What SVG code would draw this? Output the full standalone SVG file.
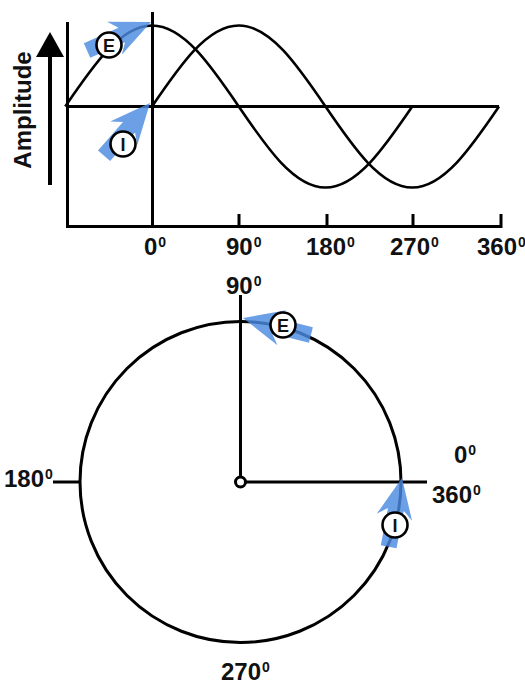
<svg xmlns="http://www.w3.org/2000/svg" xmlns:xlink="http://www.w3.org/1999/xlink" width="525" height="685" viewBox="0 0 525 685">
  <style>
    .ln { fill: none; stroke: #000; stroke-width: 3; stroke-linecap: butt; stroke-linejoin: miter; }
    .wave { fill: none; stroke: #000; stroke-width: 2.6; }
    .lbl { font-family: "Liberation Sans", Arial, sans-serif; font-weight: bold; font-size: 24px; fill: #111; }
    .sup { font-size: 14px; }
    .mk circle { fill: #fff; stroke: #000; stroke-width: 2.6; }
    .mk text { font-family: "Liberation Sans", Arial, sans-serif; font-weight: bold; font-size: 18px; fill: #111; text-anchor: middle; }
    .blue { fill: #4a8ae0; fill-opacity: 0.82; }
  </style>
  <defs>
    <path id="blueArrow" d="M0,0 L-40,-18 L-32,-8 L-70,-8 L-70,8 L-32,8 L-40,18 Z"/>
  </defs>
  <rect width="525" height="685" fill="#fff"/>

  <!-- Wave plot -->
  <g id="wave-plot">
    <g id="axes">
      <polyline class="ln" points="67.5,22 67.5,226.5 501,226.5 501,214"/>
      <line class="ln" x1="67" y1="106.5" x2="499" y2="106.5"/>
      <line class="ln" x1="152.5" y1="12" x2="152.5" y2="226.5"/>
      <line class="ln" x1="239" y1="214" x2="239" y2="226.5"/>
      <line class="ln" x1="327" y1="214" x2="327" y2="226.5"/>
      <line class="ln" x1="413" y1="214" x2="413" y2="226.5"/>
    </g>
    <g id="amplitude-arrow">
      <line x1="50" y1="185" x2="50" y2="52" stroke="#000" stroke-width="4"/>
      <polygon points="50,32 36,57 64,57" fill="#000"/>
      <text class="lbl" transform="translate(31,110) rotate(-90)" text-anchor="middle">Amplitude</text>
    </g>
    <g id="wave-E">
      <path class="wave" d="M65.25,106.5 C93.54,65 120.61,25.5 152,25.5 C183.39,25.5 210.46,65 238.75,106.5 C267.04,148 294.11,187.5 325.5,187.5 C356.89,187.5 383.96,148 412.25,106.5"/>
    </g>
    <g id="wave-I">
      <path class="wave" d="M152,106.5 C180.29,65 207.36,25.5 238.75,25.5 C270.14,25.5 297.21,65 325.5,106.5 C353.79,148 380.86,187.5 412.25,187.5 C443.64,187.5 470.71,148 499,106.5"/>
    </g>
    <g id="x-labels">
      <text class="lbl" x="144" y="255">0<tspan class="sup" dx="1" dy="-8">0</tspan></text>
      <text class="lbl" x="226" y="255">90<tspan class="sup" dx="1" dy="-8">0</tspan></text>
      <text class="lbl" x="306" y="255">180<tspan class="sup" dx="1" dy="-8">0</tspan></text>
      <text class="lbl" x="390" y="255">270<tspan class="sup" dx="1" dy="-8">0</tspan></text>
      <text class="lbl" x="477" y="255">360<tspan class="sup" dx="1" dy="-8">0</tspan></text>
    </g>
    <g id="marker-E-wave" class="mk">
      <use href="#blueArrow" xlink:href="#blueArrow" class="blue" transform="translate(151,22) rotate(-24)"/>
      <circle cx="109" cy="45" r="12.5"/>
      <text x="109" y="51.5">E</text>
    </g>
    <g id="marker-I-wave" class="mk">
      <use href="#blueArrow" xlink:href="#blueArrow" class="blue" transform="translate(150,103) rotate(-49)"/>
      <circle cx="123" cy="144" r="12.5"/>
      <text x="123" y="150.5">I</text>
    </g>
  </g>

  <!-- Phasor diagram -->
  <g id="phasor-diagram">
    <circle class="ln" cx="240.5" cy="482" r="160.5"/>
    <g id="phasor-lines">
      <line class="ln" x1="240.5" y1="295" x2="240.5" y2="477"/>
      <line class="ln" x1="245.5" y1="482" x2="427" y2="482"/>
      <line class="ln" x1="53" y1="482" x2="80" y2="482"/>
    </g>
    <circle id="origin" cx="240.5" cy="482" r="5" fill="#fff" stroke="#000" stroke-width="3"/>
    <g id="phasor-labels">
      <text class="lbl" x="226" y="294">90<tspan class="sup" dx="1" dy="-8">0</tspan></text>
      <text class="lbl" x="4" y="487">180<tspan class="sup" dx="1" dy="-8">0</tspan></text>
      <text class="lbl" x="454" y="463">0<tspan class="sup" dx="1" dy="-8">0</tspan></text>
      <text class="lbl" x="432" y="503">360<tspan class="sup" dx="1" dy="-8">0</tspan></text>
      <text class="lbl" x="221" y="680">270<tspan class="sup" dx="1" dy="-8">0</tspan></text>
    </g>
    <g id="marker-E-phasor" class="mk">
      <use href="#blueArrow" xlink:href="#blueArrow" class="blue" transform="translate(243,318) rotate(194)"/>
      <circle cx="283" cy="325" r="12.5"/>
      <text x="283" y="331.5">E</text>
    </g>
    <g id="marker-I-phasor" class="mk">
      <use href="#blueArrow" xlink:href="#blueArrow" class="blue" transform="translate(402,478) rotate(-79)"/>
      <circle cx="395" cy="525" r="12.5"/>
      <text x="395" y="531.5">I</text>
    </g>
  </g>
</svg>
